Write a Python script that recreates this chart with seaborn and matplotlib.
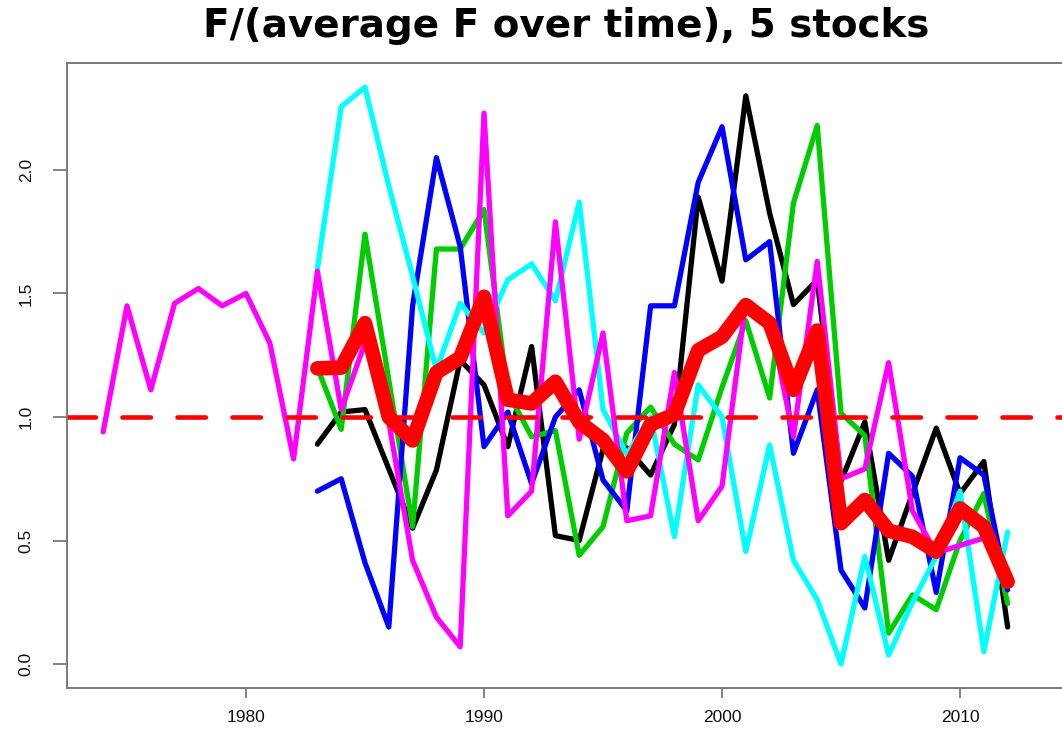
import numpy as np
import pandas as pd
import matplotlib
matplotlib.use("Agg")
import matplotlib.pyplot as plt
import seaborn as sns

# ---------------- data ----------------
years_stk = list(range(1983, 2013))

magenta_years = list(range(1974, 2012))
magenta = [0.94, 1.45, 1.11, 1.46, 1.52, 1.45, 1.50, 1.30, 0.83, 1.59,
           1.03, 1.30, 0.98, 0.42, 0.19, 0.07, 2.23, 0.60, 0.70, 1.79,
           0.91, 1.34, 0.58, 0.60, 1.18, 0.58, 0.72, 1.47, 1.40, 0.92,
           1.63, 0.75, 0.79, 1.22, 0.62, 0.45, 0.48, 0.51]

black = [0.89, 1.02, 1.03, 0.79, 0.55, 0.785, 1.23, 1.13, 0.88, 1.285,
         0.52, 0.50, 0.87, 0.875, 0.765, 0.97, 1.89, 1.55, 2.30, 1.825,
         1.455, 1.555, 0.74, 0.98, 0.42, 0.69, 0.955, 0.69, 0.82, 0.15]

green = [1.20, 0.95, 1.74, 1.15, 0.556, 1.68, 1.68, 1.84, 1.10, 0.92,
         0.945, 0.44, 0.556, 0.935, 1.04, 0.89, 0.826, 1.12, 1.39, 1.077,
         1.866, 2.18, 1.015, 0.925, 0.125, 0.28, 0.22, 0.50, 0.69, 0.245]

blue = [0.70, 0.75, 0.41, 0.15, 1.45, 2.05, 1.69, 0.88, 1.02, 0.73,
        1.00, 1.11, 0.745, 0.62, 1.45, 1.45, 1.95, 2.175, 1.636, 1.71,
        0.853, 1.11, 0.38, 0.227, 0.853, 0.76, 0.29, 0.835, 0.765, 0.30]

cyan = [1.60, 2.256, 2.335, 1.935, 1.57, 1.19, 1.46, 1.34, 1.555, 1.62,
        1.47, 1.87, 1.03, 0.85, 1.00, 0.515, 1.13, 1.00, 0.455, 0.887,
        0.42, 0.26, 0.0, 0.435, 0.036, 0.25, 0.435, 0.70, 0.05, 0.535]

mean_f = [1.197, 1.20, 1.38, 1.00, 0.905, 1.18, 1.24, 1.487, 1.07, 1.055,
          1.143, 0.98, 0.907, 0.78, 0.97, 1.01, 1.27, 1.325, 1.453, 1.38,
          1.11, 1.35, 0.57, 0.664, 0.54, 0.515, 0.455, 0.63, 0.556, 0.333]

x_ticks = [1980, 1990, 2000, 2010]
y_ticks = [0.0, 0.5, 1.0, 1.5, 2.0]
y_tick_labels = ["0.0", "0.5", "1.0", "1.5", "2.0"]
title = "F/(average F over time), 5 stocks"

# ---------------- figure ----------------
sns.set_style("white")
plt.rcParams["font.family"] = ["Liberation Sans", "DejaVu Sans"]

W, H = 1062, 733
fig = plt.figure(figsize=(W / 100, H / 100), dpi=100)
ax = fig.add_axes([67 / W, 45 / H, (1065 - 67) / W, (688 - 63) / H])

series = [
    (years_stk, black, "#000000"),
    (years_stk, green, "#00CD00"),
    (years_stk, blue, "#0000FF"),
    (years_stk, cyan, "#00FFFF"),
    (magenta_years, magenta, "#FF00FF"),
]

for yrs, vals, col in series:
    df = pd.DataFrame({"year": yrs, "F": vals})
    sns.lineplot(data=df, x="year", y="F", ax=ax, color=col, linewidth=3.8,
                 estimator=None, sort=False, legend=False)
    ax.lines[-1].set_solid_joinstyle("round")
    ax.lines[-1].set_solid_capstyle("round")

ax.axhline(1.0, color="#FF0000", linewidth=3.3, dashes=(6.2, 5.8),
           dash_capstyle="round")

df_mean = pd.DataFrame({"year": years_stk, "F": mean_f})
sns.lineplot(data=df_mean, x="year", y="F", ax=ax, color="#FF0000",
             linewidth=10.5, estimator=None, sort=False, legend=False)
ax.lines[-1].set_solid_joinstyle("round")
ax.lines[-1].set_solid_capstyle("round")

ax.set_xlim(1972.48, 2014.41)
ax.set_ylim(-0.097, 2.433)
ax.set_xticks(x_ticks)
ax.set_xticklabels([str(t) for t in x_ticks])
ax.set_yticks(y_ticks)
ax.set_yticklabels(y_tick_labels)
ax.set_xlabel("")
ax.set_ylabel("")

for s in ax.spines.values():
    s.set_color("#7a7a7a")
    s.set_linewidth(1.4)
    s.set_visible(True)

ax.tick_params(axis="both", which="major", direction="out", color="#7a7a7a",
               width=1.3, labelsize=12.5, labelcolor="#111111",
               bottom=True, left=True, top=False, right=False)
ax.tick_params(axis="y", length=10, pad=14)
ax.tick_params(axis="x", length=7, pad=9)
for lab in ax.get_yticklabels():
    lab.set_rotation(90)
    lab.set_va("center")
    lab.set_ha("right")
    lab.set_rotation_mode("default")

ax.grid(False)
ax.set_facecolor("white")
fig.patch.set_facecolor("white")

fig.text(566 / W, 1 - 26 / H, title, ha="center", va="center", color="black",
         fontsize=28, fontweight="bold", family=["DejaVu Sans"])

fig.savefig("out.png", dpi=100)
